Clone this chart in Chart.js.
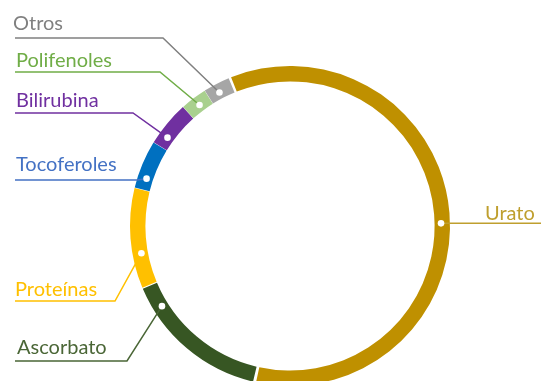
<!DOCTYPE html>
<html>
<head>
<meta charset="utf-8">
<script src="https://cdn.jsdelivr.net/npm/chart.js@4/dist/chart.umd.min.js"></script>
<style>
  html, body { margin: 0; padding: 0; background: #fff; overflow: hidden; }
  #wrap { width: 541px; height: 400px; }
</style>
</head>
<body>
<div id="wrap"><canvas id="c" width="541" height="400"></canvas></div>
<script>
// antioxidant share of total capacity (%)
const categories = ["Urato", "Ascorbato", "Proteínas", "Tocoferoles", "Bilirubina", "Polifenoles", "Otros"];
const values = [59.9, 15.0, 10.2, 4.9, 4.6, 2.7, 2.7];
const ringColors = ["#BF9000", "#375623", "#FFC000", "#0070C0", "#7030A0", "#A9D08E", "#A6A6A6"];
const textColors = ["#BF9F2E", "#4A6636", "#FFC000", "#4472C4", "#7030A0", "#70AD47", "#808080"];

// callout layout: text anchor, bend of the leader line, where the dot sits along the slice
const callouts = [
    { tx: 485, ty: 220, lineEnd: 541, frac: 0.517, side: "right" },
    { tx: 17, ty: 354, lineY: 361, bendX: 127, frac: 0.83 },
    { tx: 15, ty: 296, lineY: 301, bendX: 115, frac: 0.34 },
    { tx: 16, ty: 171, lineY: 180, bendX: 137, frac: 0.25 },
    { tx: 16, ty: 107, lineY: 113, bendX: 133, frac: 0.26 },
    { tx: 16, ty: 67, lineY: 72, bendX: 160, frac: 0.53 },
    { tx: 13, ty: 30, lineY: 38, bendX: 163, frac: 0.45 }
];

const calloutPlugin = {
    id: "callouts",
    afterDatasetsDraw(chart) {
        const ctx = chart.ctx;
        const arcs = chart.getDatasetMeta(0).data;
        ctx.save();
        ctx.font = "20px Lato";
        ctx.textBaseline = "alphabetic";
        arcs.forEach((arc, i) => {
            const c = callouts[i];
            const a = arc.startAngle + c.frac * (arc.endAngle - arc.startAngle);
            const r = (arc.innerRadius + arc.outerRadius) / 2;
            const px = arc.x + r * Math.cos(a);
            const py = arc.y + r * Math.sin(a);

            ctx.strokeStyle = textColors[i];
            ctx.lineWidth = 1.5;
            ctx.beginPath();
            if (c.side === "right") {
                ctx.moveTo(px, py);
                ctx.lineTo(c.lineEnd, py);
            } else {
                ctx.moveTo(15, c.lineY);
                ctx.lineTo(c.bendX, c.lineY);
                ctx.lineTo(px, py);
            }
            ctx.stroke();

            ctx.fillStyle = "#ffffff";
            ctx.beginPath();
            ctx.arc(px, py, 3.3, 0, Math.PI * 2);
            ctx.fill();

            ctx.fillStyle = textColors[i];
            ctx.textAlign = "left";
            ctx.fillText(categories[i], c.tx, c.ty);
        });
        ctx.restore();
    }
};

new Chart(document.getElementById("c").getContext("2d"), {
    type: "doughnut",
    data: {
        labels: categories,
        datasets: [{
            data: values,
            backgroundColor: ringColors,
            borderWidth: 0,
            spacing: 2.5,
            hoverOffset: 0,
            offset: 0
        }]
    },
    options: {
        responsive: false,
        animation: false,
        rotation: -22.5,
        cutout: "90.3%",
        layout: { padding: { left: 130, right: 91, top: 66, bottom: 14 } },
        plugins: { legend: { display: false }, tooltip: { enabled: false } }
    },
    plugins: [calloutPlugin]
});
</script>
</body>
</html>
